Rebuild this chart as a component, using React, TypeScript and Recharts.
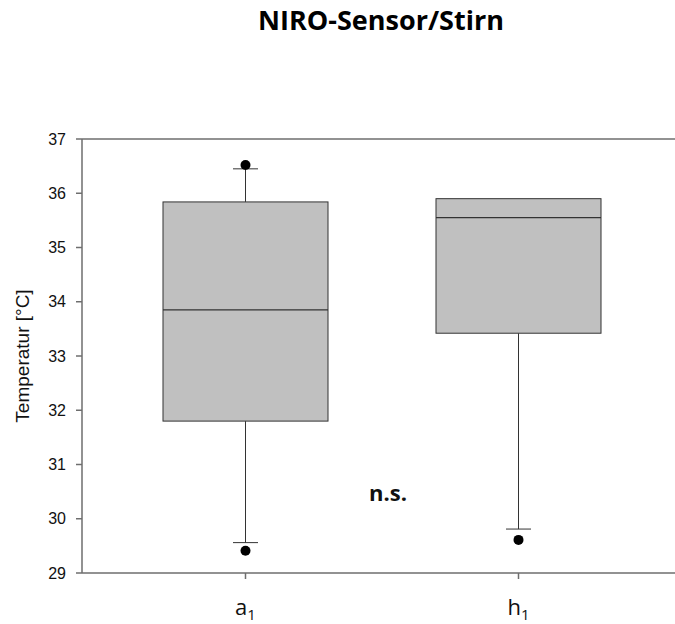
import React from 'react';
import { ComposedChart, Bar, Line, XAxis, YAxis, ReferenceLine } from 'recharts';

const groups = ['a', 'h'];
const q1 = [31.8, 33.42];
const median = [33.85, 35.55];
const q3 = [35.84, 35.9];
const whiskerLow = [29.56, 29.81];
const whiskerHigh = [36.45, 35.9];
const outlierHigh: (number | null)[] = [36.52, null];
const outlierLow: (number | null)[] = [29.41, 29.61];
const yTicks = [29, 30, 31, 32, 33, 34, 35, 36, 37];

const data = groups.map((g, i) => ({
  name: g,
  box: [q1[i], q3[i]],
  q1: q1[i],
  median: median[i],
  q3: q3[i],
  low: whiskerLow[i],
  high: whiskerHigh[i],
  outHigh: outlierHigh[i],
  outLow: outlierLow[i],
}));

const lineColor = '#333';
const axisColor = '#6e6e6e';

const BoxShape = (props: any) => {
  const { x, y, width, height, payload } = props;
  const pxPerUnit = height / (payload.q3 - payload.q1);
  const toY = (v: number) => y + (payload.q3 - v) * pxPerUnit;
  const cx = x + width / 2;
  const cap = 12.5;
  const yMed = toY(payload.median);
  const yHigh = toY(payload.high);
  const yLow = toY(payload.low);
  return (
    <g>
      {payload.high > payload.q3 && (
        <>
          <line x1={cx} x2={cx} y1={yHigh} y2={y} stroke={lineColor} strokeWidth={1} />
          <line x1={cx - cap} x2={cx + cap} y1={yHigh} y2={yHigh} stroke={lineColor} strokeWidth={1} />
        </>
      )}
      <line x1={cx} x2={cx} y1={y + height} y2={yLow} stroke={lineColor} strokeWidth={1} />
      <line x1={cx - cap} x2={cx + cap} y1={yLow} y2={yLow} stroke={lineColor} strokeWidth={1} />
      <rect x={x} y={y} width={width} height={height} fill="#c0c0c0" stroke={lineColor} strokeWidth={1} />
      <line x1={x} x2={x + width} y1={yMed} y2={yMed} stroke={lineColor} strokeWidth={1.2} />
    </g>
  );
};

const XTick = (props: any) => {
  const { x, y, payload } = props;
  return (
    <text x={x} y={y + 34} textAnchor="middle" fontFamily="Open Sans" fontSize={22} fill="#111">
      {payload.value}
      <tspan fontSize={15} dy={5}>1</tspan>
    </text>
  );
};

const OutlierDot = (props: any) => {
  const { cx, cy, value } = props;
  if (value == null || cy == null || isNaN(cy)) return null;
  return <circle cx={cx} cy={cy} r={5} fill="#000" />;
};

export default function App() {
  return (
    <div style={{ position: 'absolute', left: 0, top: 0, width: 675, height: 624, background: '#fff' }}>
      <div
        style={{
          position: 'absolute',
          left: 0,
          width: 762,
          top: 1,
          textAlign: 'center',
          fontFamily: 'Open Sans',
          fontWeight: 700,
          fontSize: 27,
          color: '#000',
        }}
      >
        NIRO-Sensor/Stirn
      </div>
      <div
        style={{
          position: 'absolute',
          left: 369,
          top: 477,
          fontFamily: 'Open Sans',
          fontWeight: 700,
          fontSize: 22,
          color: '#111',
        }}
      >
        n.s.
      </div>
      <ComposedChart width={675} height={624} data={data} margin={{ top: 139, right: 0, bottom: 0, left: 0 }}>
        <XAxis
          dataKey="name"
          padding={{ left: 27, right: 20 }}
          tick={<XTick />}
          tickSize={6}
          axisLine={{ stroke: axisColor, strokeWidth: 1.5 }}
          tickLine={{ stroke: axisColor, strokeWidth: 1.5 }}
          height={51}
        />
        <YAxis
          type="number"
          domain={[29, 37]}
          ticks={yTicks}
          width={82}
          tickSize={6}
          tickMargin={10}
          axisLine={{ stroke: axisColor, strokeWidth: 1.5 }}
          tickLine={{ stroke: axisColor, strokeWidth: 1.5 }}
          tick={{ fontFamily: 'Liberation Sans', fontSize: 16, fill: '#111' }}
          label={{
            value: 'Temperatur [°C]',
            angle: -90,
            position: 'insideLeft',
            offset: 22,
            style: { fontFamily: 'Liberation Sans', fontSize: 19, fill: '#111', textAnchor: 'middle' },
          }}
        />
        <ReferenceLine y={37} stroke={axisColor} strokeWidth={1.5} />
        <Bar dataKey="box" barSize={165} shape={<BoxShape />} isAnimationActive={false} />
        <Line dataKey="outHigh" stroke="none" dot={<OutlierDot />} activeDot={false} isAnimationActive={false} />
        <Line dataKey="outLow" stroke="none" dot={<OutlierDot />} activeDot={false} isAnimationActive={false} />
      </ComposedChart>
    </div>
  );
}
